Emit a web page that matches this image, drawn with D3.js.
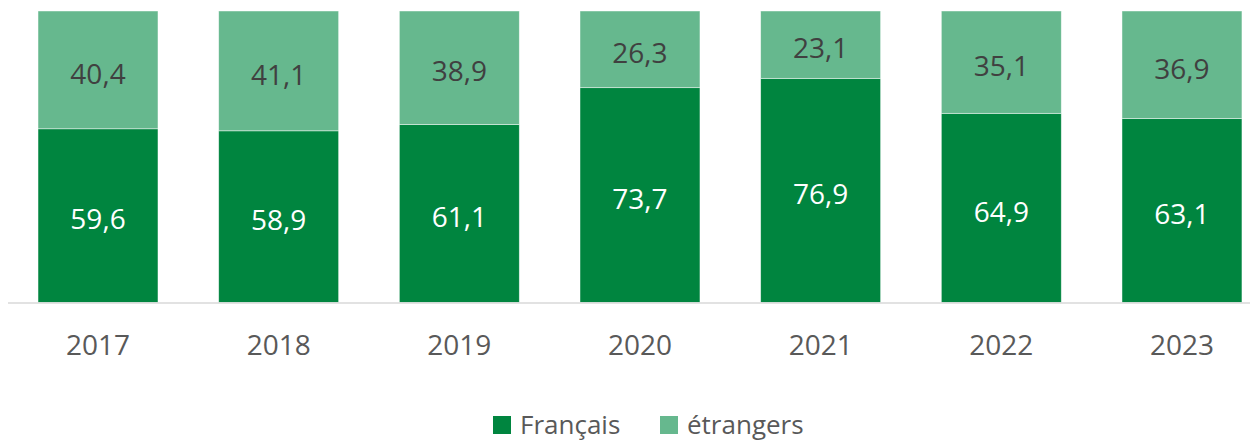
<!DOCTYPE html>
<html><head><meta charset="utf-8">
<script src="https://cdn.jsdelivr.net/npm/d3@7"></script>
<style>html,body{margin:0;padding:0;background:#fff;}svg{display:block;font-family:"Open Sans",sans-serif;}</style>
</head><body>
<svg id="c" width="1258" height="441"></svg>
<script>
const years = ["2017","2018","2019","2020","2021","2022","2023"];
const francais = [59.6, 58.9, 61.1, 73.7, 76.9, 64.9, 63.1];
const etrangers = [40.4, 41.1, 38.9, 26.3, 23.1, 35.1, 36.9];
const seriesNames = ["Français", "étrangers"];
const colors = ["#00853f", "#66b88e"];
const labelColors = ["#ffffff", "#404040"];

const svg = d3.select("#c");
const x = d3.scaleBand().domain(years).range([7.67, 1272.3]).paddingInner(0.336).paddingOuter(0.168);
const y = d3.scaleLinear().domain([0, 100]).range([302.5, 11]);

const rows = years.map((yr, i) => ({year: yr, "Français": francais[i], "étrangers": etrangers[i]}));
const stacked = d3.stack().keys(seriesNames)(rows);
const fmt = v => d3.format(".1f")(v).replace(".", ",");

stacked.forEach((s, si) => {
  const g = svg.append("g");
  g.selectAll("rect").data(s).join("rect")
    .attr("x", d => x(d.data.year))
    .attr("width", x.bandwidth())
    .attr("y", d => y(d[1]))
    .attr("height", d => y(d[0]) - y(d[1]))
    .attr("fill", colors[si])
    .attr("stroke", "rgba(255,255,255,0.6)")
    .attr("stroke-width", 0.75);
  g.selectAll("text").data(s).join("text")
    .attr("x", d => x(d.data.year) + x.bandwidth() / 2)
    .attr("y", d => (y(d[0]) + y(d[1])) / 2 + 4)
    .attr("dy", "0.35em")
    .attr("text-anchor", "middle")
    .attr("font-size", 28)
    .attr("fill", labelColors[si])
    .text(d => fmt(d[1] - d[0]));
});

// axis line
svg.append("line").attr("x1", 8).attr("x2", 1250).attr("y1", y(0) + 0.5).attr("y2", y(0) + 0.5)
  .attr("stroke", "#d9d9d9").attr("stroke-width", 1.5);

const xAxis = svg.append("g").attr("transform", `translate(0,${y(0)})`)
  .call(d3.axisBottom(x).tickSize(0).tickPadding(33));
xAxis.select(".domain").remove();
xAxis.selectAll("text").attr("font-size", 28).attr("fill", "#595959").attr("font-family", "Open Sans, sans-serif");

// legend
const legendX = [493, 660];
seriesNames.forEach((n, i) => {
  svg.append("rect").attr("x", legendX[i]).attr("y", 416).attr("width", 18).attr("height", 18).attr("fill", colors[i]);
  svg.append("text").attr("x", legendX[i] + 27).attr("y", 433.5).attr("font-size", 26)
    .attr("fill", "#595959").text(n);
});
</script>
</body></html>
